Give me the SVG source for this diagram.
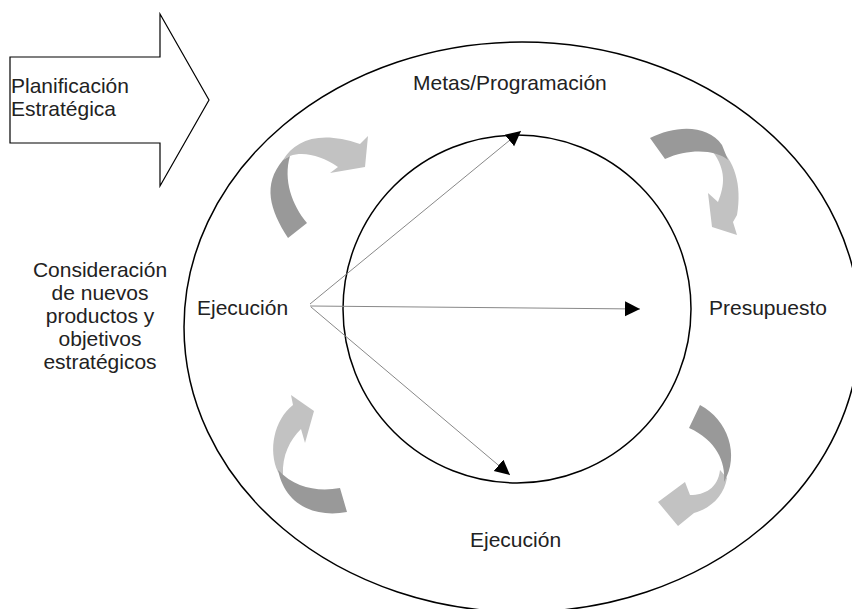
<svg xmlns="http://www.w3.org/2000/svg" width="852" height="609" viewBox="0 0 852 609">
<style>
  .lbl { font-family: "Liberation Sans", Arial, sans-serif; font-size: 21px; fill: #222; }
  .ring { fill: none; stroke: #000; stroke-width: 1.5; }
  .dark { fill: #999999; }
  .light { fill: #c2c2c2; }
  .conn { stroke: #888; stroke-width: 1; fill: none; marker-end: url(#head); }
</style>
<defs>
  <marker id="head" markerUnits="userSpaceOnUse" markerWidth="16" markerHeight="16" refX="15" refY="7.5" orient="auto">
    <path d="M0,0 L15,7.5 L0,15 Z" fill="#000"/>
  </marker>
</defs>
<rect width="852" height="609" fill="#fff"/>

<g id="outer-cycle">
  <ellipse class="ring" cx="522" cy="327" rx="338" ry="285"/>
</g>
<g id="inner-cycle">
  <circle class="ring" cx="517" cy="309" r="174"/>
</g>

<g id="planificacion">
  <polygon points="10,57 160,57 160,14 209,100 160,186 160,143 10,143" fill="#fff" stroke="#000" stroke-width="1.2"/>
  <text class="lbl" x="11" y="93">Planificación</text>
  <text class="lbl" x="11" y="116">Estratégica</text>
</g>

<g id="cycle-arrow-top-left">
  <path class="light" d="M283,160 C295,140 320,130 360,144 L368,136 L365,167 L330,173 L338,167 C322,156 304,151 290,156 Z"/>
  <path class="dark" d="M288,238 C270,210 262,185 283,160 L290,156 C283,180 292,205 307,223 Z"/>
</g>
<g id="cycle-arrow-top-right">
  <path class="light" d="M716,145 C735,160 742,185 737,215 L733,222 L737,235 L712,227 L708,193 L718,202 C725,185 726,170 713,152 Z"/>
  <path class="dark" d="M650,138 C675,125 708,124 722,145 L728,160 C716,150 690,148 665,159 Z"/>
</g>
<g id="cycle-arrow-bottom-left">
  <path class="light" d="M278,472 C268,450 274,420 293,405 L291,395 L314,411 L305,443 L301,429 C290,440 282,455 283,475 Z"/>
  <path class="dark" d="M278,470 C285,505 315,518 347,512 L340,488 C318,492 295,488 278,470 Z"/>
</g>
<g id="cycle-arrow-bottom-right">
  <path class="light" d="M720,470 C718,488 705,495 690,495 L685,482 L658,502 L678,526 L694,513 C712,508 724,495 727,478 Z"/>
  <path class="dark" d="M700,405 C728,420 740,455 724,482 C726,462 716,440 689,428 Z"/>
</g>

<g id="connectors">
  <line class="conn" x1="310" y1="304" x2="521" y2="131"/>
  <line class="conn" x1="310" y1="306" x2="640" y2="309"/>
  <line class="conn" x1="311" y1="307" x2="510" y2="475"/>
</g>

<g id="metas">
  <text class="lbl" x="413" y="90">Metas/Programación</text>
</g>
<g id="presupuesto">
  <text class="lbl" x="709" y="315">Presupuesto</text>
</g>
<g id="ejecucion-left">
  <text class="lbl" x="197" y="315">Ejecución</text>
</g>
<g id="ejecucion-bottom">
  <text class="lbl" x="470" y="547">Ejecución</text>
</g>
<g id="consideracion">
  <text class="lbl" text-anchor="middle" x="100" y="277">Consideración</text>
  <text class="lbl" text-anchor="middle" x="100" y="300">de nuevos</text>
  <text class="lbl" text-anchor="middle" x="100" y="323">productos y</text>
  <text class="lbl" text-anchor="middle" x="100" y="346">objetivos</text>
  <text class="lbl" text-anchor="middle" x="100" y="369">estratégicos</text>
</g>
</svg>
